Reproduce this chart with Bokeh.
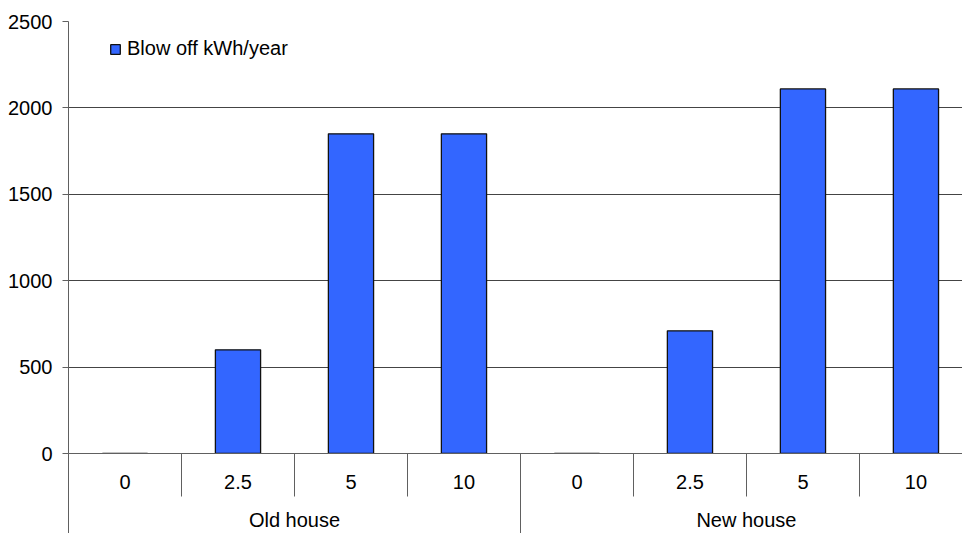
from bokeh.plotting import figure
from bokeh.models import Range1d, FixedTicker, LinearAxis, Legend, LegendItem, ColumnDataSource
from bokeh.embed import file_html
from bokeh.resources import INLINE

# ---- data ----
groups = ["Old house", "New house"]
levels = ["0", "2.5", "5", "10"]
blow_off = [0, 600, 1850, 1850, 0, 710, 2110, 2110]
series_name = "Blow off kWh/year"
y_ticks = [0, 500, 1000, 1500, 2000, 2500]

FONT = "Liberation Sans"
FS = "20px"
AXIS_COLOR = "#606060"

n = len(groups) * len(levels)
x_centers = [i + 0.5 for i in range(n)]
cat_labels = [lv for g in groups for lv in levels]
inner_bounds = [i for i in range(1, n) if i % len(levels) != 0]
group_bounds = [i * len(levels) for i in range(len(groups) + 1)]
g_centers = [i * len(levels) + len(levels) / 2 for i in range(len(groups))]

p = figure(width=962, height=533, output_backend="svg", toolbar_location=None,
           x_range=Range1d(0, 7.912), y_range=Range1d(0, 2500),
           min_border_left=68, min_border_right=0, min_border_top=21, min_border_bottom=80)
p.outline_line_color = None
p.background_fill_color = "white"
p.border_fill_color = "white"

src = ColumnDataSource(dict(x=x_centers, top=blow_off))
r = p.vbar(x="x", top="top", width=0.4, source=src, fill_color="#3366FF",
           line_color="#111111", line_width=1.3)

# grid
p.xgrid.visible = False
p.ygrid.ticker = FixedTicker(ticks=y_ticks)
p.ygrid.grid_line_color = "#444444"
p.ygrid.grid_line_width = 1

# y axis
ya = p.yaxis[0]
ya.ticker = FixedTicker(ticks=y_ticks)
ya.axis_line_color = AXIS_COLOR
ya.major_tick_line_color = AXIS_COLOR
ya.major_tick_out = 6
ya.major_tick_in = 0
ya.minor_tick_line_color = None
ya.major_label_standoff = 10
ya.major_label_text_font = FONT
ya.major_label_text_font_size = FS
ya.major_label_text_color = "black"

# x axis level 1 (category values)
xa = p.xaxis[0]
xa.ticker = FixedTicker(ticks=x_centers, minor_ticks=inner_bounds)
xa.major_label_overrides = {x: lab for x, lab in zip(x_centers, cat_labels)}
xa.axis_line_color = AXIS_COLOR
xa.major_tick_out = 0
xa.major_tick_in = 0
xa.minor_tick_line_color = AXIS_COLOR
xa.minor_tick_out = 0
xa.minor_tick_in = -43
xa.major_label_standoff = 21
xa.major_label_text_font = FONT
xa.major_label_text_font_size = FS
xa.major_label_text_color = "black"

# x axis level 2 (groups)
xa2 = LinearAxis(ticker=FixedTicker(ticks=g_centers, minor_ticks=group_bounds))
xa2.major_label_overrides = {x: g for x, g in zip(g_centers, groups)}
xa2.axis_line_color = None
xa2.major_tick_out = 0
xa2.major_tick_in = 0
xa2.minor_tick_line_color = AXIS_COLOR
xa2.minor_tick_in = 38
xa2.minor_tick_out = 42
xa2.major_label_standoff = -25
xa2.major_label_text_font = FONT
xa2.major_label_text_font_size = FS
xa2.major_label_text_color = "black"
p.add_layout(xa2, "below")

# legend
legend = Legend(items=[LegendItem(label=series_name, renderers=[r])],
                location=(41, 393), orientation="vertical",
                glyph_width=12, glyph_height=12, label_standoff=6,
                padding=0, margin=0, spacing=0,
                border_line_color=None, background_fill_alpha=0,
                label_text_font=FONT, label_text_font_size=FS, label_text_color="black")
p.add_layout(legend)

open("out.html", "w").write(file_html(p, INLINE))
